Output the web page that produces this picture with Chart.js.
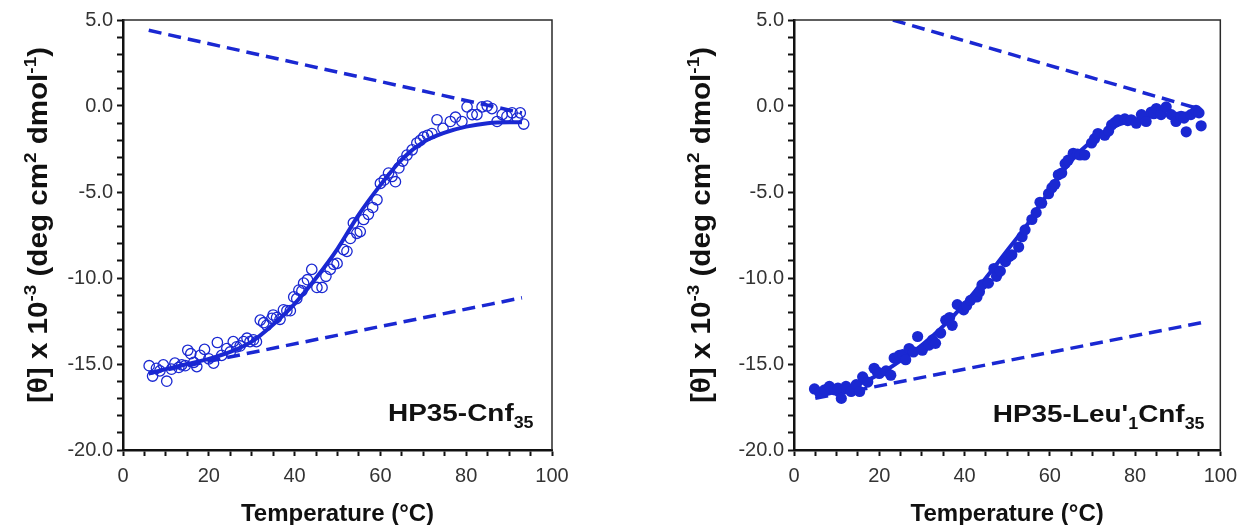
<!DOCTYPE html>
<html>
<head>
<meta charset="utf-8">
<title>HP35 thermal denaturation</title>
<script src="https://cdn.jsdelivr.net/npm/chart.js@4.4.1/dist/chart.umd.min.js"></script>
<style>
  html, body { margin: 0; padding: 0; background: #fff; }
  #wrap { position: relative; width: 1245px; height: 525px; overflow: hidden; }
  .panel { position: absolute; top: 0; height: 525px; }
  #panelA { left: 0; width: 671px; }
  #panelB { left: 671px; width: 574px; }
</style>
</head>
<body>
<div id="wrap">
  <div class="panel" id="panelA"><canvas id="chartA" width="671" height="525"></canvas></div>
  <div class="panel" id="panelB"><canvas id="chartB" width="574" height="525"></canvas></div>
</div>
<script>
// axis ticks
const xMajorTicks = [0, 20, 40, 60, 80, 100];
const yMajorTicks = [5, 0, -5, -10, -15, -20];

// HP35-Cnf35 (open circles)
const cnfTemp = [6.1, 6.9, 7.8, 8.6, 9.4, 10.2, 11.3, 12.1, 13.0, 13.7, 14.5, 15.1, 15.8, 16.5, 17.2, 18.0, 19.0, 20.0, 21.1, 22.0,
  23.0, 24.2, 25.0, 25.7, 26.5, 27.3, 28.1, 28.9, 29.6, 30.4, 31.1, 32.0, 32.8, 33.5, 34.7, 35.0, 35.8, 36.6, 37.4, 38.2,
  39.0, 39.8, 40.5, 41.0, 41.7, 42.1, 43.0, 44.0, 45.2, 46.4, 47.3, 48.3, 49.1, 49.9, 51.4, 52.2, 53.0, 53.7, 54.5, 55.3,
  56.1, 57.2, 58.2, 59.2, 60.0, 60.9, 61.9, 62.7, 63.5, 64.3, 65.2, 66.2, 67.4, 68.5, 69.3, 70.1, 71.0, 72.0, 73.2, 74.6,
  76.3, 77.5, 79.0, 80.2, 81.4, 82.5, 83.7, 84.9, 86.0, 87.2, 88.4, 89.5, 90.7, 91.9, 92.6, 93.4];
const cnfTheta = [-15.1, -15.7, -15.25, -15.4, -15.05, -16.0, -15.3, -14.95, -15.2, -15.05, -15.1, -14.2, -14.4, -14.9, -15.15, -14.5, -14.15, -14.7, -14.95, -13.75,
  -14.5, -14.1, -14.3, -13.7, -14.0, -13.95, -13.7, -13.5, -13.7, -13.6, -13.7, -12.45, -12.6, -12.75, -12.35, -12.15, -12.3, -12.4, -11.85, -11.9,
  -11.9, -11.1, -11.2, -10.7, -10.75, -10.3, -10.1, -9.5, -10.55, -10.55, -9.9, -9.5, -9.2, -9.15, -8.35, -8.45, -7.7, -6.8, -7.4, -7.3,
  -6.6, -6.3, -5.9, -5.45, -4.5, -4.3, -3.9, -4.1, -4.4, -3.6, -3.2, -2.85, -2.55, -2.15, -2.0, -1.8, -1.7, -1.6, -0.8, -1.3,
  -0.9, -0.65, -0.9, -0.05, -0.5, -0.5, -0.05, 0.0, -0.15, -0.9, -0.5, -0.6, -0.4, -0.7, -0.4, -1.05];
const cnfFitTemp = [6, 10, 15, 20, 25, 30, 35, 40, 45, 50, 55, 60, 65, 70, 75, 80, 85, 90, 93];
const cnfFitTheta = [-15.55, -15.3, -15.0, -14.7, -14.3, -13.7, -12.7, -11.5, -10.0, -8.3, -6.3, -4.6, -3.1, -2.1, -1.55, -1.2, -1.0, -0.95, -0.95];
const cnfUpperTemp = [6, 93];
const cnfUpperTheta = [4.4, -0.4];
const cnfLowerTemp = [6, 93];
const cnfLowerTheta = [-15.55, -11.15];

// HP35-Leu'1Cnf35 (filled circles)
const leuTemp = [4.8, 6.0, 7.2, 8.3, 9.5, 10.3, 11.1, 12.2, 13.4, 14.6, 15.4, 16.1, 17.3, 18.8, 19.5, 20.0, 21.6, 22.7, 23.5, 24.7,
  25.5, 26.2, 27.0, 28.0, 29.0, 30.1, 31.7, 32.5, 33.2, 34.4, 35.6, 36.5, 37.1, 38.3, 39.8, 40.5, 41.4, 42.9, 43.5, 44.1,
  45.6, 46.9, 47.5, 48.4, 49.6, 50.5, 51.1, 52.7, 53.5, 54.2, 55.8, 56.8, 57.7, 58.1, 59.7, 60.5, 61.2, 62.0, 62.8, 63.6,
  64.3, 65.5, 66.5, 67.1, 68.2, 69.8, 70.5, 71.3, 72.9, 73.8, 74.5, 75.3, 76.0, 77.6, 78.3, 79.1, 80.3, 81.5, 82.6, 83.8,
  84.4, 85.0, 86.1, 87.3, 88.5, 89.6, 90.8, 91.5, 92.0, 93.1, 94.3, 95.0, 95.5];
const leuTheta = [-16.45, -16.65, -16.5, -16.3, -16.5, -16.4, -17.0, -16.3, -16.6, -16.2, -16.6, -15.75, -16.05, -15.25, -15.45, -15.55, -15.4, -15.65, -14.65, -14.5,
  -14.45, -14.75, -14.1, -14.3, -13.4, -14.2, -13.9, -13.6, -13.8, -13.2, -12.45, -12.3, -12.75, -11.55, -11.85, -11.6, -11.3, -11.1, -10.8, -10.4,
  -10.3, -9.45, -9.9, -9.6, -9.05, -8.75, -8.65, -8.2, -7.6, -7.2, -6.6, -6.2, -5.6, -5.65, -5.1, -4.75, -4.55, -4.0, -3.9, -3.35,
  -3.15, -2.75, -2.8, -2.85, -2.85, -2.15, -1.9, -1.6, -1.7, -1.45, -1.1, -0.95, -0.8, -0.75, -0.85, -0.8, -1.0, -0.5, -0.9, -0.35,
  -0.45, -0.15, -0.5, -0.05, -0.5, -0.9, -0.6, -0.7, -1.5, -0.5, -0.25, -0.4, -1.15];
const leuFitTemp = [5, 10, 15, 20, 25, 30, 35, 40, 45, 50, 55, 60, 65, 70, 75, 80, 85, 90, 95.5];
const leuFitTheta = [-16.9, -16.6, -16.2, -15.6, -14.8, -13.9, -12.8, -11.5, -10.0, -8.4, -6.8, -4.9, -3.2, -2.0, -1.2, -0.8, -0.55, -0.45, -0.4];
const leuUpperTemp = [23.2, 95.5];
const leuUpperTheta = [5.0, -0.2];
const leuLowerTemp = [5, 95.5];
const leuLowerTheta = [-17.0, -12.6];

const BLUE = "#1a28d2";
const FONT = "'Liberation Sans', Arial, Helvetica, sans-serif";

const yTitleParts = [
  { t: "[θ] x 10" }, { t: "-3", sup: true }, { t: " (deg cm" }, { t: "2", sup: true },
  { t: " dmol" }, { t: "-1", sup: true }, { t: ")" },
];

function toXY(xs, ys) {
  return xs.map((x, i) => ({ x: x, y: ys[i] }));
}

function partsWidth(ctx, parts, size) {
  let w = 0;
  parts.forEach((p) => {
    const s = p.sup || p.sub ? size * 0.64 : size;
    ctx.font = `bold ${s}px ${FONT}`;
    w += ctx.measureText(p.t).width;
  });
  return w;
}

// draws mixed text with super/subscripts, baseline at y=0 after transform
function drawParts(ctx, parts, size, startX) {
  let x = startX;
  parts.forEach((p) => {
    const s = p.sup || p.sub ? size * 0.64 : size;
    ctx.font = `bold ${s}px ${FONT}`;
    let dy = 0;
    if (p.sup) dy = -size * 0.4;
    if (p.sub) dy = size * 0.28;
    ctx.fillText(p.t, x, dy);
    x += ctx.measureText(p.t).width;
  });
}

const panelDecor = {
  id: "panelDecor",
  afterDraw(chart, args, opts) {
    const { ctx, chartArea: a, scales } = chart;
    ctx.save();
    // top and right frame
    ctx.strokeStyle = "#2a2a2a";
    ctx.lineWidth = 1.5;
    ctx.beginPath();
    ctx.moveTo(a.left, a.top);
    ctx.lineTo(a.right, a.top);
    ctx.lineTo(a.right, a.bottom);
    ctx.stroke();

    ctx.fillStyle = "#111";
    ctx.textBaseline = "alphabetic";
    ctx.textAlign = "left";

    // y axis title, rotated and widened a little to match the original lettering
    ctx.save();
    ctx.translate(opts.yTitleX, (a.top + a.bottom) / 2 - 10);
    ctx.rotate(-Math.PI / 2);
    const w = partsWidth(ctx, yTitleParts, opts.yTitleSize);
    ctx.scale(opts.yTitleLength / w, 1);
    drawParts(ctx, yTitleParts, opts.yTitleSize, -w / 2);
    ctx.restore();

    // sample label, right aligned at a data position
    const lw = partsWidth(ctx, opts.label, opts.labelSize);
    ctx.save();
    ctx.translate(scales.x.getPixelForValue(opts.labelX), scales.y.getPixelForValue(opts.labelY));
    ctx.scale(opts.labelStretch, 1);
    drawParts(ctx, opts.label, opts.labelSize, -lw);
    ctx.restore();
    ctx.restore();
  },
};

function makeScales() {
  return {
    x: {
      type: "linear",
      min: 0,
      max: 100,
      afterFit(scale) { scale.height = 75; },
      ticks: {
        stepSize: 5,
        autoSkip: false,
        maxRotation: 0,
        padding: 8,
        color: "#333",
        font: { family: FONT, size: 20 },
        callback: (v) => (xMajorTicks.includes(v) ? String(v) : ""),
      },
      grid: { drawOnChartArea: false, tickLength: 6, tickColor: "#111", tickWidth: 2 },
      border: { color: "#111", width: 2.5 },
      title: {
        display: true,
        text: "Temperature (°C)",
        color: "#111",
        font: { family: FONT, size: 24, weight: "bold" },
        padding: { top: 0, bottom: -4 },
      },
    },
    y: {
      type: "linear",
      min: -20,
      max: 5,
      afterFit(scale) { scale.width = 123; },
      ticks: {
        stepSize: 1,
        autoSkip: false,
        padding: 4,
        color: "#333",
        font: { family: FONT, size: 20 },
        callback: (v) => (yMajorTicks.includes(v) ? v.toFixed(1) : ""),
      },
      grid: { drawOnChartArea: false, tickLength: 6, tickColor: "#111", tickWidth: 2 },
      border: { color: "#111", width: 2.5 },
    },
  };
}

function lineSet(xs, ys, dashed, order) {
  return {
    data: toXY(xs, ys),
    showLine: true,
    pointRadius: 0,
    borderColor: BLUE,
    borderWidth: dashed ? 3.5 : 4,
    borderDash: dashed ? [13, 7] : [],
    cubicInterpolationMode: "monotone",
    order: order,
  };
}

function buildPanel(canvasId, points, filled, fit, upper, lower, label, decor, padRight) {
  return new Chart(document.getElementById(canvasId), {
    type: "scatter",
    data: {
      datasets: [
        {
          data: points,
          pointStyle: "circle",
          pointRadius: filled ? 5.6 : 5.2,
          pointBorderWidth: filled ? 0 : 1.3,
          pointBorderColor: BLUE,
          pointBackgroundColor: filled ? BLUE : "rgba(0,0,0,0)",
          showLine: false,
          order: 0,
        },
        lineSet(fit[0], fit[1], false, 1),
        lineSet(upper[0], upper[1], true, 2),
        lineSet(lower[0], lower[1], true, 2),
      ],
    },
    options: {
      responsive: false,
      devicePixelRatio: 1,
      animation: false,
      layout: { padding: { top: 20, right: padRight, bottom: 0, left: 0 } },
      plugins: {
        legend: { display: false },
        tooltip: { enabled: false },
        panelDecor: Object.assign({ label: label }, decor),
      },
      scales: makeScales(),
    },
    plugins: [panelDecor],
  });
}

document.addEventListener("DOMContentLoaded", function () {
  buildPanel(
    "chartA",
    toXY(cnfTemp, cnfTheta),
    false,
    [cnfFitTemp, cnfFitTheta],
    [cnfUpperTemp, cnfUpperTheta],
    [cnfLowerTemp, cnfLowerTheta],
    [{ t: "HP35-Cnf" }, { t: "35", sub: true }],
    { yTitleX: 47, yTitleSize: 27, yTitleLength: 356, labelX: 95.7, labelY: -18.3, labelSize: 24.5, labelStretch: 1.14 },
    119
  );
  buildPanel(
    "chartB",
    toXY(leuTemp, leuTheta),
    true,
    [leuFitTemp, leuFitTheta],
    [leuUpperTemp, leuUpperTheta],
    [leuLowerTemp, leuLowerTheta],
    [{ t: "HP35-Leu'" }, { t: "1", sub: true }, { t: "Cnf" }, { t: "35", sub: true }],
    { yTitleX: 39, yTitleSize: 27, yTitleLength: 356, labelX: 96.3, labelY: -18.4, labelSize: 24.5, labelStretch: 1.14 },
    22
  );
});
</script>
</body>
</html>
